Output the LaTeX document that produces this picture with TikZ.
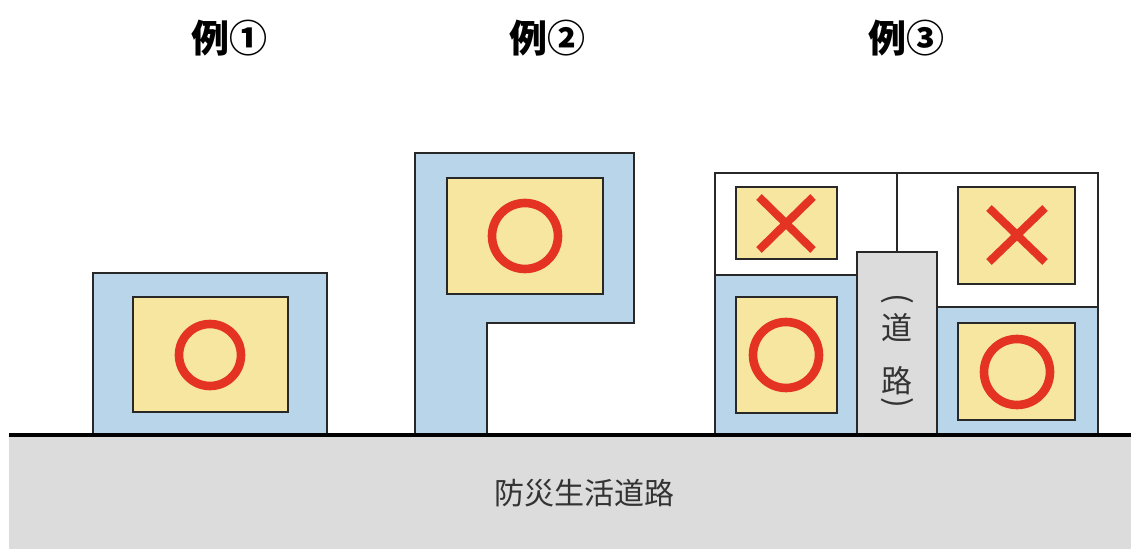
\documentclass[tikz,border=0pt]{standalone}
\usepackage{fontspec}
\usepackage{graphicx}
\setmainfont{Noto Sans CJK JP}
\usetikzlibrary{positioning}
\definecolor{lotblue}{RGB}{184,213,234}
\definecolor{houseyellow}{RGB}{246,230,160}
\definecolor{markred}{RGB}{228,50,35}
\definecolor{roadgray}{RGB}{220,220,220}
\definecolor{edgegray}{RGB}{40,40,40}

\tikzset{
  lot/.style={draw=edgegray, line width=1pt, fill=lotblue},
  emptylot/.style={draw=edgegray, line width=1pt, fill=white},
  house/.style={draw=edgegray, line width=1pt, fill=houseyellow},
  okmark/.style={draw=markred, line width=4.3pt},
  ngmark/.style={draw=markred, line width=4pt},
  title/.style={font=\bfseries\fontsize{19}{19}\selectfont},
  roadtext/.style={font=\fontsize{15.5}{15.5}\selectfont, text=black!80, inner sep=0pt},
  bracket/.style={font=\fontsize{16}{16}\selectfont, text=black!80, inner sep=0pt}
}

\begin{document}
\begin{tikzpicture}[x=0.5pt,y=-0.5pt]
\useasboundingbox (0,0) rectangle (1131,549);

% main road
\fill[roadgray] (9,435) rectangle (1131,549);
\node[font=\fontsize{15}{15}\selectfont, text=black!80] (mainroad) at (584,493) {防災生活道路};

% example 1
\node[title] (ex1) at (229,38) {例①};
\draw[lot] (93,435) rectangle (327,273);
\draw[house] (133,297) rectangle (288,412);
\draw[okmark] (210,355) circle[radius=15.5pt];

% example 2
\node[title] (ex2) at (547,38) {例②};
\draw[lot] (415,435) -- (415,153) -- (634,153) -- (634,323) -- (487,323) -- (487,435);
\draw[house] (447,178) rectangle (603,294);
\draw[okmark] (525,236) circle[radius=16.5pt];

% example 3
\node[title] (ex3) at (906,38) {例③};
\draw[emptylot] (715,275) -- (715,173) -- (1098,173) -- (1098,307) -- (937,307);
\draw[edgegray, line width=1pt] (897,173) -- (897,252);
\draw[lot] (715,435) rectangle (857,275);
\draw[lot] (937,435) rectangle (1098,307);
\draw[edgegray, line width=1pt, fill=roadgray] (857,435) rectangle (937,252);
\node[bracket] (br1) at (897,301) {\rotatebox[origin=c]{-90}{(}};
\node[roadtext] (ch1) at (897,328) {道};
\node[roadtext] (ch2) at (897,381) {路};
\node[bracket] (br2) at (897,405) {\rotatebox[origin=c]{-90}{)}};

\draw[house] (736,187) rectangle (837,259);
\draw[ngmark] (759,197) -- (813,250) (813,197) -- (759,250);
\draw[house] (958,187) rectangle (1075,284);
\draw[ngmark] (989,208) -- (1045,262) (1045,208) -- (989,262);
\draw[house] (736,297) rectangle (837,413);
\draw[okmark] (786,355) circle[radius=16.5pt];
\draw[house] (958,323) rectangle (1075,420);
\draw[okmark] (1017,372) circle[radius=16.5pt];

% ground line
\draw[black, line width=2pt] (9,435) -- (1131,435);
\end{tikzpicture}
\end{document}
